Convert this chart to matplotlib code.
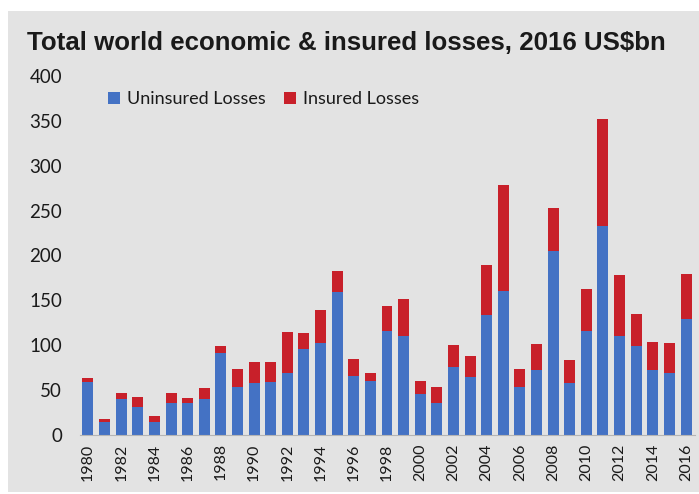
import matplotlib
matplotlib.use('Agg')
import matplotlib.pyplot as plt
from matplotlib.patches import Rectangle
import numpy as np

years = list(range(1980, 2017))
uninsured = [59, 15, 40, 31, 14, 36, 36, 40, 91, 54, 58, 59,
             69, 96, 103, 159, 66, 60, 116, 110, 46, 36, 76, 65,
             134, 160, 53, 72, 205, 58, 116, 233, 110, 99, 72, 69, 129]
insured = [4, 3, 7, 11, 7, 11, 5, 12, 8, 20, 23, 22,
           46, 18, 36, 24, 19, 9, 28, 41, 14, 17, 24, 23,
           55, 118, 21, 29, 48, 26, 47, 119, 68, 36, 32, 33, 50]

BLUE = '#4472C4'
RED = '#C8202A'
PANEL = '#E3E3E3'

W, H = 699, 494
fig = plt.figure(figsize=(W / 100, H / 100), dpi=100, facecolor='white')

# grey card behind the chart
fig.patches.append(Rectangle((8 / W, 2 / H), 1, (H - 13) / H,
                             transform=fig.transFigure, facecolor=PANEL,
                             edgecolor='none', zorder=-10))

ax = fig.add_axes([80 / W, 59 / H, 615 / W, 359 / H])
ax.set_facecolor('none')

x = np.arange(len(years))
ax.bar(x, uninsured, width=0.66, color=BLUE, label='Uninsured Losses')
ax.bar(x, insured, width=0.66, bottom=uninsured, color=RED, label='Insured Losses')

ax.set_xlim(-0.48, len(years) - 0.46)
ax.set_ylim(0, 400)
ax.set_yticks(range(0, 401, 50))
ax.set_xticks(x[::2])
ax.set_xticklabels([str(y) for y in years[::2]], rotation=90,
                   fontsize=11.5, fontfamily='Lato', color='#1a1a1a')
for lbl in ax.get_yticklabels():
    lbl.set_fontfamily('Lato')
ax.tick_params(axis='y', length=0, pad=13, labelsize=13.5, labelcolor='#1a1a1a')
ax.tick_params(axis='x', length=0, pad=6)

for spine in ['top', 'right', 'left']:
    ax.spines[spine].set_visible(False)
ax.spines['bottom'].set_color('#b5b5b5')
ax.spines['bottom'].set_linewidth(0.8)

fig.text(27 / W, 1 - 50 / H, 'Total world economic & insured losses, 2016 US$bn',
         fontsize=18.6, fontweight='bold', fontfamily='Liberation Sans',
         color='#1a1a1a', ha='left', va='baseline')

ax.legend(loc='center left', bbox_to_anchor=(92 / W, 1 - 99 / H),
          bbox_transform=fig.transFigure, ncol=2, frameon=False,
          prop={'family': 'Lato', 'size': 13}, handlelength=0.65,
          handleheight=0.65, handletextpad=0.4, columnspacing=1.0,
          labelcolor='#1a1a1a')

fig.savefig('out.png', dpi=100, facecolor='white')
